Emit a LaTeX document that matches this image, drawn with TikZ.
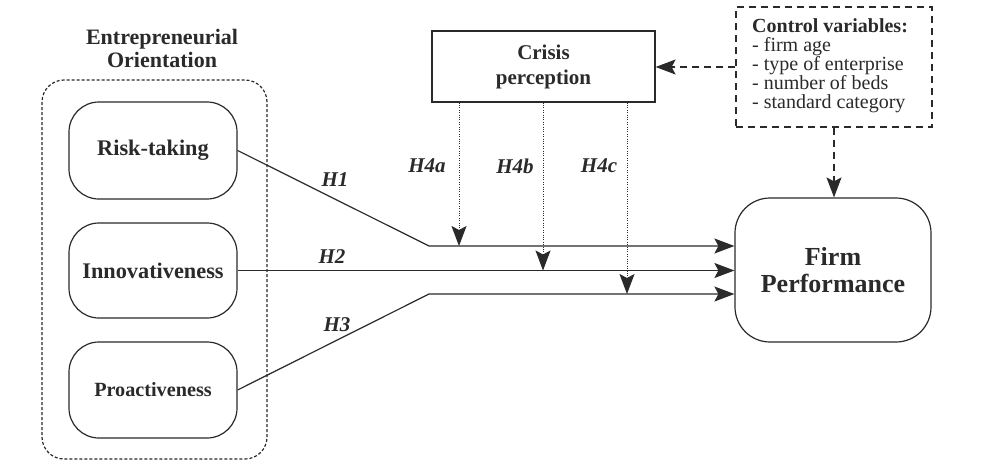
\documentclass[tikz,border=0pt]{standalone}
\usepackage{fontspec}
\setmainfont{Liberation Serif}
\usetikzlibrary{arrows.meta}
\definecolor{ink}{HTML}{2A2A2A}
\begin{document}
\begin{tikzpicture}[x=1pt,y=-1pt,
  every node/.style={text=ink},
  line/.style={draw=ink,line width=1.2pt},
  headtip/.style={-{Stealth[length=20pt 0,width=15pt 0,inset=4pt 0]}},
  dimbox/.style={line,rounded corners=30pt,minimum width=168pt,inner sep=0pt},
  dimfont/.style={font=\fontsize{#1}{24}\selectfont\bfseries},
  hlab/.style={font=\fontsize{21}{23}\selectfont\bfseries\itshape,inner sep=0pt},
  moder/.style={line,line width=1pt,dash pattern=on 1pt off 1.4pt,headtip},
  ctrlline/.style={line,dash pattern=on 7pt off 5pt,headtip}]
\useasboundingbox[fill=white] (0,0) rectangle (985,461);

% Entrepreneurial orientation group
\node[align=center,font=\fontsize{22}{23}\selectfont\bfseries,inner sep=0pt] (eotitle) at (162,48)
  {Entrepreneurial\\Orientation};
\draw[line,rounded corners=22pt,dash pattern=on 3pt off 2pt] (42,80) rectangle (267,459);

\node[dimbox,dimfont=22.3,minimum height=97pt] (rt) at (153,150.5) {Risk-taking};
\node[dimbox,dimfont=22.3,minimum height=95pt] (inn) at (153,270.5) {Innovativeness};
\node[dimbox,dimfont=20.2,minimum height=96pt] (pro) at (153,390) {Proactiveness};

% Moderator and outcome
\node[line,minimum width=223pt,minimum height=71pt,inner sep=0pt,align=center,
  font=\fontsize{21}{25}\selectfont\bfseries] (crisis) at (543.5,66.5) {Crisis\\perception};
\node[line,rounded corners=35pt,minimum width=196pt,minimum height=144pt,inner sep=0pt,
  align=center,font=\fontsize{26}{27}\selectfont\bfseries] (firm) at (833,270) {Firm\\Performance};

% Control variables
\node[line,dash pattern=on 7pt off 5pt,minimum width=196pt,minimum height=120pt] (ctrl) at (834,67) {};
\node[anchor=north west,align=left,inner sep=0pt,font=\fontsize{20}{19}\selectfont] (ctrltext) at (752,18)
  {\textbf{Control variables:}\\- firm age\\- type of enterprise\\- number of beds\\- standard category};

% Main effects
\coordinate (b1) at (429,246);
\coordinate (b3) at (429,294);
\draw[line,headtip] (rt.east) -- (b1) -- (b1 -| firm.west);
\draw[line,headtip] (inn.east) -- (inn.east -| firm.west);
\draw[line,headtip] (pro.east) -- (b3) -- (b3 -| firm.west);

% Moderation
\coordinate (m1) at (459,246);
\coordinate (m2) at (543,270.5);
\coordinate (m3) at (627,294);
\draw[moder] (m1 |- crisis.south) -- (m1);
\draw[moder] (m2 |- crisis.south) -- (m2);
\draw[moder] (m3 |- crisis.south) -- (m3);

% Controls
\draw[ctrlline] (ctrl.west) -- (ctrl.west -| crisis.east);
\draw[ctrlline] (ctrl.south) -- (ctrl.south |- firm.north);

% Hypothesis labels
\node[hlab] (h1) at (335,180) {H1};
\node[hlab] (h2) at (332,257) {H2};
\node[hlab] (h3) at (337,325) {H3};
\node[hlab] (h4a) at (427,166) {H4a};
\node[hlab] (h4b) at (515,166) {H4b};
\node[hlab] (h4c) at (599,166) {H4c};
\end{tikzpicture}
\end{document}
